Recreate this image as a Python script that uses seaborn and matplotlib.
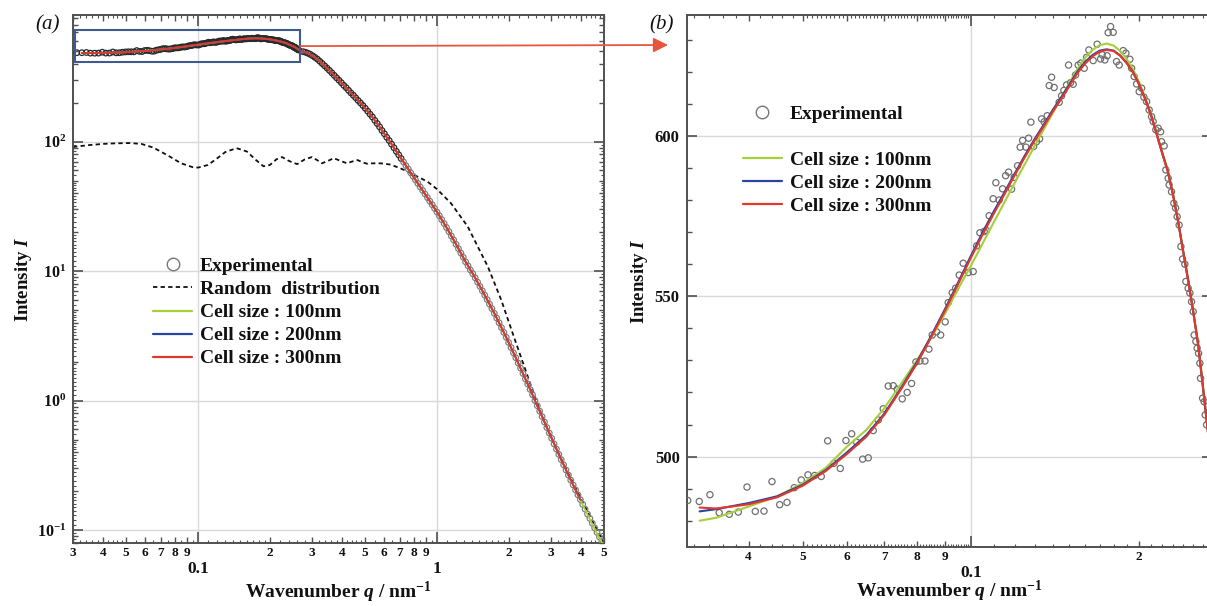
import numpy as np
import pandas as pd
import matplotlib
matplotlib.use("Agg")
import matplotlib.pyplot as plt
import seaborn as sns
from matplotlib.ticker import (FuncFormatter, NullLocator, MultipleLocator,
                               LogLocator, NullFormatter)
from matplotlib.lines import Line2D
from matplotlib.patches import Rectangle

# ---------------- data ----------------
# Panel (b): experimental points (q in nm^-1, intensity)
exp_q_b = [0.03113, 0.03265, 0.03412, 0.03545, 0.03695, 0.03835, 0.03975, 0.04113, 0.04263, 0.04406,
           0.04548, 0.04687, 0.04830, 0.04971, 0.05110, 0.05253, 0.05398, 0.05542, 0.05688, 0.05838,
           0.05976, 0.06118, 0.06245, 0.06402, 0.06551, 0.06687, 0.06827, 0.06968, 0.07114, 0.07261,
           0.07383, 0.07536, 0.07691, 0.07832, 0.07973, 0.08106, 0.08274, 0.08411, 0.08526, 0.08682,
           0.08828, 0.08995, 0.09107, 0.09259, 0.09389, 0.09530, 0.09687, 0.09890, 0.10095, 0.10238,
           0.10378, 0.10563, 0.10659, 0.10783, 0.10961, 0.11083, 0.11236, 0.11395, 0.11537, 0.11679,
           0.11825, 0.11954, 0.12121, 0.12252, 0.12374, 0.12544, 0.12684, 0.12804, 0.12949, 0.13108,
           0.13272, 0.13382, 0.13525, 0.13694, 0.13808, 0.13945, 0.14093, 0.14388, 0.14531, 0.14669,
           0.14832, 0.14955, 0.15080, 0.15241, 0.15392, 0.15560, 0.15733, 0.15949, 0.16106, 0.16259,
           0.16551, 0.16827, 0.17061, 0.17175, 0.17366, 0.17531, 0.17604, 0.17780, 0.17973, 0.18224,
           0.18422, 0.18730, 0.18939, 0.19252, 0.19390, 0.19597, 0.19792, 0.20007, 0.20206, 0.20398,
           0.20625, 0.20845, 0.21053, 0.21190, 0.21426, 0.21633, 0.21848, 0.21935, 0.22174, 0.22328,
           0.22542, 0.22634, 0.22859, 0.23077, 0.23241, 0.23396, 0.23586, 0.23755, 0.23920, 0.24147,
           0.24248, 0.24478, 0.24652, 0.24823, 0.24990, 0.25093, 0.25268, 0.25403, 0.25549, 0.25689,
           0.25761, 0.25975, 0.26149, 0.26254, 0.26406]
exp_I_b = [486.3, 486.0, 488.1, 482.5, 482.0, 482.7, 490.5, 482.9, 483.0, 492.2,
           485.0, 485.7, 490.3, 492.7, 494.3, 494.1, 493.8, 504.9, 497.9, 496.3,
           505.0, 507.1, 504.5, 499.2, 499.6, 508.1, 511.4, 514.9, 522.0, 522.1,
           521.0, 518.0, 520.0, 522.8, 529.5, 529.8, 529.8, 533.5, 537.9, 538.9,
           537.9, 542.0, 548.0, 551.1, 552.5, 556.6, 560.3, 557.4, 557.7, 565.7,
           569.8, 570.2, 570.5, 575.1, 580.4, 585.4, 580.0, 583.5, 587.6, 588.7,
           583.4, 587.1, 590.7, 596.5, 598.6, 596.5, 599.3, 604.3, 596.7, 598.2,
           599.1, 605.3, 604.4, 606.3, 615.7, 618.3, 615.1, 610.5, 612.5, 614.2,
           615.9, 622.1, 616.6, 616.1, 619.0, 622.1, 622.7, 621.1, 624.5, 626.8,
           623.5, 628.6, 624.0, 625.3, 623.7, 625.0, 632.2, 634.1, 632.3, 623.2,
           622.1, 626.6, 625.8, 623.9, 621.1, 618.5, 616.2, 613.8, 614.9, 612.1,
           610.7, 608.1, 606.0, 604.5, 601.9, 602.4, 601.3, 598.2, 596.9, 589.4,
           586.8, 584.7, 582.6, 579.0, 577.5, 574.8, 572.2, 565.5, 561.6, 560.0,
           554.6, 552.5, 551.0, 548.3, 545.2, 537.9, 535.9, 533.8, 532.2, 529.1,
           524.4, 518.2, 517.1, 513.0, 509.9]

# Panel (b): model curves
fit_q_b = [0.0327, 0.035, 0.040, 0.045, 0.050, 0.055, 0.060, 0.065, 0.070, 0.075,
           0.080, 0.085, 0.090, 0.095, 0.100, 0.105, 0.110, 0.115, 0.120, 0.125,
           0.130, 0.135, 0.140, 0.145, 0.150, 0.155, 0.160, 0.165, 0.170, 0.175,
           0.180, 0.185, 0.190, 0.195, 0.200, 0.205, 0.210, 0.215, 0.220, 0.225,
           0.230, 0.235, 0.240, 0.245, 0.250, 0.255, 0.260, 0.265, 0.270]
fit100_b = [480.0, 480.9, 484.4, 487.6, 491.7, 496.5, 503.1, 508.3, 515.1, 522.7,
            529.9, 537.2, 544.7, 552.5, 559.5, 566.5, 573.2, 579.5, 585.6, 591.3,
            596.8, 602.0, 607.0, 611.8, 616.5, 620.8, 624.3, 626.8, 628.3, 628.8,
            628.2, 626.5, 624.0, 620.8, 616.8, 612.0, 607.0, 601.0, 595.0, 589.5,
            582.0, 573.5, 564.0, 555.0, 545.5, 535.5, 522.5, 509.5, 497.5]
fit200_b = [482.9, 483.6, 485.5, 487.6, 491.2, 495.8, 501.3, 506.7, 513.4, 521.4,
            529.4, 537.8, 546.2, 554.5, 562.6, 570.0, 576.6, 582.6, 588.5, 594.0,
            599.0, 603.5, 608.0, 612.0, 616.0, 620.0, 623.0, 625.2, 626.6, 627.0,
            626.6, 625.1, 622.8, 619.9, 616.1, 611.6, 606.6, 600.6, 594.6, 589.1,
            581.6, 573.1, 563.6, 554.6, 545.1, 535.1, 522.1, 509.1, 497.1]
fit300_b = [484.1, 483.8, 485.1, 487.3, 490.9, 495.5, 500.8, 506.2, 513.0, 521.0,
            528.9, 537.4, 545.7, 554.0, 562.0, 569.3, 575.9, 582.0, 588.0, 593.5,
            598.5, 603.0, 607.5, 611.5, 615.5, 619.5, 622.5, 624.8, 626.3, 626.8,
            626.5, 625.0, 622.7, 619.8, 616.0, 611.5, 606.5, 600.5, 594.5, 589.0,
            581.5, 573.0, 563.5, 554.5, 545.0, 535.0, 522.0, 509.0, 497.0]

# Panel (a): experimental intensity beyond the zoomed window
exp_q_a = [0.2754, 0.2818, 0.2884, 0.2951, 0.3020, 0.3090, 0.3162, 0.3236, 0.3311, 0.3388,
           0.3467, 0.3548, 0.3631, 0.3715, 0.3802, 0.3890, 0.3981, 0.4074, 0.4169, 0.4266,
           0.4365, 0.4467, 0.4571, 0.4677, 0.4786, 0.4898, 0.5012, 0.5129, 0.5248, 0.5370,
           0.5495, 0.5623, 0.5754, 0.5888, 0.6026, 0.6166, 0.6310, 0.6457, 0.6607, 0.6761,
           0.6918, 0.7079, 0.7244, 0.7413, 0.7586, 0.7762, 0.7943, 0.8128, 0.8318, 0.8511,
           0.8710, 0.8913, 0.9120, 0.9333, 0.9550, 0.9772, 1.0000, 1.0233, 1.0471, 1.0715,
           1.0965, 1.1220, 1.1482, 1.1749, 1.2023, 1.2303, 1.2589, 1.2882, 1.3183, 1.3490,
           1.3804, 1.4125, 1.4454, 1.4791, 1.5136, 1.5488, 1.5849, 1.6218, 1.6596, 1.6982,
           1.7378, 1.7783, 1.8197, 1.8621, 1.9055, 1.9498, 1.9953, 2.0417, 2.0893, 2.1380,
           2.1878, 2.2387, 2.2909, 2.3442, 2.3988, 2.4547, 2.5119, 2.5704, 2.6303, 2.6915,
           2.7542, 2.8184, 2.8840, 2.9512, 3.0200, 3.0903, 3.1623, 3.2359, 3.3113, 3.3884,
           3.4674, 3.5481, 3.6308, 3.7154, 3.8019, 3.8905, 3.9811, 4.0738, 4.1687, 4.2658,
           4.3652, 4.4668, 4.5709, 4.6774, 4.7863, 4.8978, 5.0000]
exp_I_a = [495, 490, 482, 472, 460, 447, 433, 417, 401, 385,
           370, 355, 340, 325, 311, 298, 285, 272, 261, 249,
           238, 228, 218, 208, 199, 190, 181, 172, 163, 155,
           146, 138, 130, 122, 115, 108, 102, 95.5, 89.7, 84.1,
           79.1, 74.1, 69.7, 65.3, 61.4, 57.5, 54.1, 50.7, 47.6, 44.7,
           42.0, 39.4, 37.0, 34.7, 32.6, 30.5, 28.6, 26.8, 25.0, 23.3,
           21.7, 20.2, 18.7, 17.4, 16.1, 14.9, 13.8, 12.8, 11.8, 11.0,
           10.2, 9.55, 8.87, 8.22, 7.62, 7.05, 6.52, 6.03, 5.56, 5.13,
           4.72, 4.34, 3.99, 3.66, 3.36, 3.08, 2.81, 2.57, 2.34, 2.14,
           1.95, 1.78, 1.62, 1.47, 1.34, 1.22, 1.11, 1.00, 0.912, 0.828,
           0.752, 0.682, 0.619, 0.562, 0.511, 0.463, 0.422, 0.384, 0.350, 0.319,
           0.291, 0.266, 0.243, 0.223, 0.204, 0.187, 0.172, 0.158, 0.145, 0.133,
           0.123, 0.113, 0.104, 0.0959, 0.0885, 0.0817, 0.0759]

# Panel (a): random distribution model (dashed)
rand_q = [0.030, 0.035, 0.040, 0.045, 0.052, 0.058, 0.065, 0.075, 0.085, 0.095,
          0.100, 0.110, 0.120, 0.130, 0.145, 0.160, 0.175, 0.188, 0.200, 0.213,
          0.225, 0.240, 0.260, 0.280, 0.300, 0.315, 0.330, 0.350, 0.370, 0.395,
          0.420, 0.445, 0.466, 0.490, 0.510, 0.540, 0.580, 0.640, 0.705, 0.750,
          0.800, 0.914, 1.000, 1.145, 1.345, 1.634, 1.857, 2.100, 2.400, 2.600,
          2.900, 3.400, 4.000, 4.500, 5.000]
rand_I = [91, 94, 96, 97, 97.5, 96, 90, 78, 68, 63.5,
          63, 66, 74, 83, 89, 84, 72, 64.5, 66, 73,
          76, 71, 67, 73, 76, 72, 68, 71, 74.5, 71,
          68, 70.5, 72, 69, 67.5, 68, 68, 66.5, 62, 59,
          55.5, 49, 43, 33.4, 22.1, 10.8, 6.0, 3.1, 1.53, 1.0,
          0.6, 0.32, 0.175, 0.115, 0.08]

# Panel (a): 100 nm model tail at high q (visible below the data)
tail_q = [4.0, 4.5, 5.0]
tail_I = [0.168, 0.108, 0.074]

# zoom window drawn in panel (a)
box_q = [0.0305, 0.268]
box_I = [410, 729]

legend_labels = ["Experimental", "Random  distribution", "Cell size : 100nm",
                 "Cell size : 200nm", "Cell size : 300nm"]

# ---------------- style ----------------
GREEN, BLUE, RED = "#a6cf3c", "#2a45a0", "#e2382c"
SPINE = "#505050"
GRID = "#d9d9d9"

sns.set_theme(style="white")
plt.rcParams.update({
    "font.family": ["Liberation Serif", "DejaVu Serif"],
    "font.weight": "bold",
    "axes.labelweight": "bold",
    "mathtext.fontset": "custom",
    "mathtext.rm": "Liberation Serif:bold",
    "mathtext.it": "Liberation Serif:italic:bold",
    "mathtext.bf": "Liberation Serif:bold",
    "axes.edgecolor": SPINE,
    "axes.linewidth": 1.4,
    "text.color": "#111111",
    "axes.labelcolor": "#111111",
    "xtick.color": SPINE,
    "ytick.color": SPINE,
    "xtick.labelcolor": "#111111",
    "ytick.labelcolor": "#111111",
})

fig = plt.figure(figsize=(12.07, 6.06), dpi=100)
ax_a = fig.add_axes([0.0605, 0.1040, 0.4399, 0.8712])
ax_b = fig.add_axes([0.5689, 0.0979, 0.4352, 0.8773])

df_b = pd.DataFrame({"q": exp_q_b, "I": exp_I_b})
df_a = pd.DataFrame({"q": exp_q_b + exp_q_a, "I": exp_I_b + exp_I_a})
fits_b = pd.DataFrame({"q": fit_q_b, "f100": fit100_b, "f200": fit200_b, "f300": fit300_b})

# ---------------- panel (a) ----------------
ax_a.set_xscale("log")
ax_a.set_yscale("log")
ax_a.set_axisbelow(True)

sns.lineplot(x=rand_q, y=rand_I, ax=ax_a, color="#111111", lw=1.3,
             linestyle=(0, (2.4, 1.8)), estimator=None, sort=False, zorder=2)

low = df_a[df_a.q <= 0.72]
high = df_a[df_a.q > 0.72]
sns.scatterplot(data=low, x="q", y="I", ax=ax_a, marker="o", s=16,
                facecolor="none", edgecolor="#2a2a2a", linewidth=0.9, zorder=3)
sns.scatterplot(data=high, x="q", y="I", ax=ax_a, marker="o", s=16,
                facecolor="none", edgecolor="#808080", linewidth=0.9, zorder=3)

tail_a = df_a[(df_a.q > 0.27) & (df_a.q <= 4.0)]
q_fit_a = fit_q_b + list(tail_a.q)
green_q = fit_q_b + list(df_a[(df_a.q > 0.27) & (df_a.q <= 3.9)].q) + tail_q
green_I = fit100_b + list(df_a[(df_a.q > 0.27) & (df_a.q <= 3.9)].I) + tail_I
sns.lineplot(x=green_q, y=green_I, ax=ax_a, color=GREEN, lw=1.3, estimator=None, sort=False, zorder=4)
sns.lineplot(x=q_fit_a, y=fit200_b + list(tail_a.I), ax=ax_a, color=BLUE, lw=1.3,
             estimator=None, sort=False, zorder=4)
sns.lineplot(x=q_fit_a, y=fit300_b + list(tail_a.I), ax=ax_a, color=RED, lw=1.3,
             estimator=None, sort=False, zorder=5)

ax_a.set_xlim(0.03, 5)
ax_a.set_ylim(0.0795, 950)

ax_a.add_patch(Rectangle((box_q[0], box_I[0]), box_q[1] - box_q[0], box_I[1] - box_I[0],
                         fill=False, edgecolor="#3f5b8c", lw=1.5, zorder=6))

# ---------------- panel (b) ----------------
ax_b.set_xscale("log")
ax_b.set_axisbelow(True)
sns.scatterplot(data=df_b, x="q", y="I", ax=ax_b, marker="o", s=20,
                facecolor="none", edgecolor="#707070", linewidth=0.9, zorder=3)
sns.lineplot(data=fits_b, x="q", y="f100", ax=ax_b, color=GREEN, lw=1.5, estimator=None, sort=False, zorder=4)
sns.lineplot(data=fits_b, x="q", y="f200", ax=ax_b, color=BLUE, lw=1.5, estimator=None, sort=False, zorder=4)
sns.lineplot(data=fits_b, x="q", y="f300", ax=ax_b, color=RED, lw=1.5, estimator=None, sort=False, zorder=5)
ax_b.set_xlim(0.031, 0.27)
ax_b.set_ylim(471.9, 637.7)

# ---------------- ticks ----------------
def minor_digit(v, pos):
    e = np.floor(np.log10(v) + 1e-9)
    return "%d" % int(round(v / 10 ** e))

def decade_label(v, pos):
    return "%g" % v

def pow_label(v, pos):
    return r"$10^{%d}$" % int(round(np.log10(v)))

def fine_positions(lo, hi, mults):
    out = []
    for e in range(-3, 2):
        for m in mults:
            v = m * 10.0 ** e
            if lo <= v <= hi:
                out.append(v)
    return out

mult_a = [1.1, 1.2, 1.3, 1.4, 1.5, 1.6, 1.7, 1.8, 1.9, 2.2, 2.4, 2.6, 2.8, 3.2, 3.4, 3.6, 3.8,
          4.2, 4.4, 4.6, 4.8, 5.5, 6.5, 7.5, 8.5, 9.5]
mult_b = [1.1, 1.2, 1.3, 1.4, 1.5, 1.6, 1.7, 1.8, 1.9, 2.1, 2.2, 2.3, 2.4, 2.5, 2.6, 2.7, 2.8, 2.9,
          3.2, 3.4, 3.6, 3.8, 4.2, 4.4, 4.6, 4.8] + \
         [m / 10 for m in range(51, 100) if m % 10 != 0]

def add_fine_x(ax, pos):
    for loc in ("bottom", "top"):
        s = ax.secondary_xaxis(loc)
        s.set_xticks(pos)
        s.xaxis.set_minor_locator(NullLocator())
        s.tick_params(axis="x", which="both", direction="in", length=2.2, width=0.8,
                      color=SPINE, labelbottom=False, labeltop=False)
        for sp in s.spines.values():
            sp.set_visible(False)

def add_fine_y(ax, pos):
    for loc in ("left", "right"):
        s = ax.secondary_yaxis(loc)
        s.set_yticks(pos)
        s.yaxis.set_minor_locator(NullLocator())
        s.tick_params(axis="y", which="both", direction="in", length=2.2, width=0.8,
                      color=SPINE, labelleft=False, labelright=False)
        for sp in s.spines.values():
            sp.set_visible(False)

for ax in (ax_a, ax_b):
    ax.xaxis.set_major_locator(LogLocator(base=10, numticks=20))
    ax.xaxis.set_minor_locator(LogLocator(base=10, subs=np.arange(2, 10), numticks=40))
    ax.xaxis.set_major_formatter(FuncFormatter(decade_label))
    ax.xaxis.set_minor_formatter(FuncFormatter(minor_digit))
    ax.tick_params(axis="x", which="major", direction="in", length=8, width=1.2,
                   top=True, bottom=True, labelsize=12.5, pad=13)
    ax.tick_params(axis="x", which="minor", direction="in", length=4.5, width=1.0,
                   top=True, bottom=True, labelsize=9.5, pad=3)
    ax.tick_params(axis="y", which="major", direction="in", length=7, width=1.2,
                   left=True, right=True, labelsize=12, pad=5)
    ax.tick_params(axis="y", which="minor", direction="in", length=3.5, width=1.0,
                   left=True, right=True)
    ax.grid(True, which="major", color=GRID, lw=1.0)
    ax.grid(False, which="minor")
    for sp in ax.spines.values():
        sp.set_color(SPINE)
        sp.set_linewidth(1.4)

ax_a.yaxis.set_major_locator(LogLocator(base=10, numticks=20))
ax_a.yaxis.set_minor_locator(LogLocator(base=10, subs=np.arange(2, 10), numticks=40))
ax_a.yaxis.set_major_formatter(FuncFormatter(pow_label))
ax_a.yaxis.set_minor_formatter(NullFormatter())
ax_a.tick_params(axis="y", which="major", labelsize=11.5)

ax_b.yaxis.set_major_locator(MultipleLocator(50))
ax_b.yaxis.set_minor_locator(MultipleLocator(10))

add_fine_x(ax_a, fine_positions(0.03, 5, mult_a))
add_fine_y(ax_a, fine_positions(0.0795, 950, mult_a))
add_fine_x(ax_b, fine_positions(0.031, 0.27, mult_b))

# ---------------- labels ----------------
for ax, lp, xp in ((ax_a, 2, 2), (ax_b, 3.5, -1.5)):
    ax.set_xlabel(r"Wavenumber $q$ / nm$^{-1}$", fontsize=14, labelpad=xp)
    ax.set_ylabel(r"Intensity $I$", fontsize=13.5, labelpad=lp)

fig.text(48 / 1207, 1 - 25 / 606, "(a)", ha="center", va="center", fontsize=15,
         style="italic", weight="normal")
fig.text(662 / 1207, 1 - 25 / 606, "(b)", ha="center", va="center", fontsize=15,
         style="italic", weight="normal")

# ---------------- legends ----------------
h_exp = Line2D([], [], marker="o", ls="none", mfc="none", mec="#777777", ms=9, mew=1.0)
h_rand = Line2D([], [], color="#111111", ls=(0, (2.4, 1.8)), lw=1.3)
h100 = Line2D([], [], color=GREEN, lw=1.6)
h200 = Line2D([], [], color=BLUE, lw=1.6)
h300 = Line2D([], [], color=RED, lw=1.6)
h_blank = Line2D([], [], color="none")

leg_kw = dict(loc="upper left", frameon=False, fontsize=14, handlelength=2.0,
              handletextpad=0.4, labelspacing=0.28, borderpad=0, borderaxespad=0)
ax_a.legend([h_exp, h_rand, h100, h200, h300], legend_labels,
            bbox_to_anchor=(0.151, 0.5405), **leg_kw)
ax_b.legend([h_exp, h_blank, h100, h200, h300],
            [legend_labels[0], " "] + legend_labels[2:],
            bbox_to_anchor=(0.107, 0.8305), **leg_kw)

# ---------------- arrow from zoom box to panel (b) ----------------
arrow_y = float(np.sqrt(box_I[0] * box_I[1]))
ax_a.annotate("", xy=(668 / 1207, 1 - 45 / 606), xycoords="figure fraction",
              xytext=(box_q[1], arrow_y), textcoords="data",
              arrowprops=dict(arrowstyle="-|>", color="#e8553f", lw=1.3,
                              mutation_scale=22, shrinkA=0, shrinkB=0),
              annotation_clip=False, zorder=7)

fig.savefig("out.png", dpi=100)
